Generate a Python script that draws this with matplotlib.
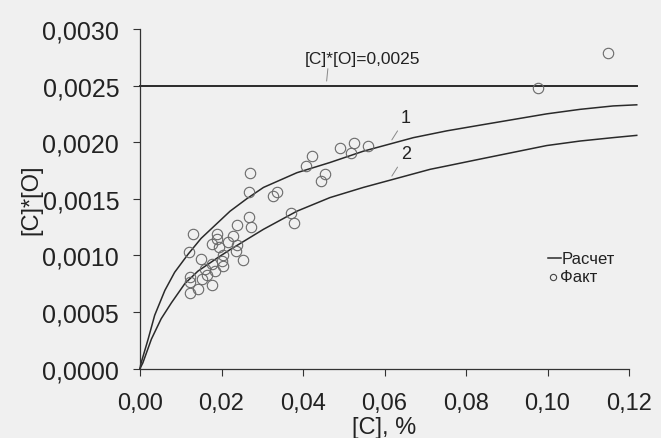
import matplotlib
matplotlib.use("Agg")
import matplotlib.pyplot as plt
from matplotlib.lines import Line2D
from matplotlib.ticker import FuncFormatter

plt.rcParams['font.family'] = ['Liberation Sans', 'DejaVu Sans']

# curve 1 (calculated)
c1_x = [0.0, 0.0002, 0.0020, 0.0036, 0.0061, 0.0085, 0.0118, 0.0150, 0.0221, 0.0262, 0.0303, 0.0385,
        0.0466, 0.0548, 0.0630, 0.0671, 0.0753, 0.0834, 0.0916, 0.0998, 0.1080, 0.1161, 0.1219]
c1_y = [0.0, 0.00004, 0.00026, 0.00047, 0.00069, 0.00085, 0.00101, 0.00115, 0.00139, 0.00150, 0.00160, 0.00173,
        0.00182, 0.00192, 0.00200, 0.00204, 0.00210, 0.00215, 0.00220, 0.00225, 0.00229, 0.00232, 0.00233]

# curve 2 (calculated)
c2_x = [0.0, 0.0007, 0.0028, 0.0052, 0.0077, 0.0110, 0.0142, 0.0191, 0.0221, 0.0303, 0.0385,
        0.0466, 0.0548, 0.0630, 0.0712, 0.0753, 0.0834, 0.0916, 0.0998, 0.1080, 0.1161, 0.1219]
c2_y = [0.0, 0.00005, 0.00026, 0.00044, 0.00058, 0.00075, 0.00086, 0.00098, 0.00105, 0.00123, 0.00139,
        0.00151, 0.00160, 0.00168, 0.00176, 0.00179, 0.00185, 0.00191, 0.00197, 0.00201, 0.00204, 0.00206]

# measured points
fact_x = [0.0130, 0.0121, 0.0270, 0.0268, 0.0327, 0.0336, 0.0407, 0.0422, 0.0443, 0.0455,
          0.0492, 0.0518, 0.0525, 0.0560, 0.0370, 0.0378, 0.0267, 0.0272, 0.0239, 0.0227,
          0.0217, 0.0239, 0.0236, 0.0188, 0.0190, 0.0176, 0.0195, 0.0203, 0.0200, 0.0204,
          0.0252, 0.0149, 0.0176, 0.0160, 0.0184, 0.0123, 0.0123, 0.0151, 0.0177, 0.0143,
          0.0123, 0.0976, 0.1149, 0.0165]
fact_y = [0.00119, 0.00103, 0.00173, 0.00156, 0.00152, 0.00156, 0.00179, 0.00188, 0.00166, 0.00172,
          0.00195, 0.00190, 0.00199, 0.00197, 0.00137, 0.00129, 0.00134, 0.00125, 0.00127, 0.00117,
          0.00112, 0.00109, 0.00104, 0.00119, 0.00114, 0.00110, 0.00107, 0.00100, 0.00095, 0.00091,
          0.00096, 0.00097, 0.00092, 0.00088, 0.00086, 0.00081, 0.00076, 0.00079, 0.00074, 0.00070,
          0.00067, 0.00248, 0.00279, 0.00083]

limit_y = 0.0025
limit_x = [0.0, 0.1219]

bg = '#f0f0f0'
ink = '#222222'
fig = plt.figure(figsize=(6.61, 4.39), dpi=100, facecolor=bg)
ax = fig.add_axes([0.2118, 0.1583, 0.7398, 0.7734], facecolor=bg)

ax.plot(limit_x, [limit_y, limit_y], color='#2a2a2a', lw=1.4, clip_on=False)
ax.plot(c1_x, c1_y, color='#2a2a2a', lw=1.1, clip_on=False)
ax.plot(c2_x, c2_y, color='#2a2a2a', lw=1.1, clip_on=False)
ax.plot(fact_x, fact_y, 'o', ms=7.5, mfc='none', mec='#6a6a6a', mew=0.8, clip_on=False)

ax.set_xlim(0, 0.12)
ax.set_ylim(0, 0.003)
ax.set_xticks([0, 0.02, 0.04, 0.06, 0.08, 0.10, 0.12])
ax.set_yticks([0, 0.0005, 0.0010, 0.0015, 0.0020, 0.0025, 0.0030])
ax.xaxis.set_major_formatter(FuncFormatter(lambda v, p: f"{v:.2f}".replace('.', ',')))
ax.yaxis.set_major_formatter(FuncFormatter(lambda v, p: f"{v:.4f}".replace('.', ',')))
ax.tick_params(axis='both', direction='out', length=5, width=0.8, colors='#333333',
               labelcolor=ink)
ax.tick_params(axis='y', pad=10, labelsize=18)
ax.tick_params(axis='x', pad=12, labelsize=17)
for s in ['top', 'right']:
    ax.spines[s].set_visible(False)
for s in ['left', 'bottom']:
    ax.spines[s].set_color('#333333')
    ax.spines[s].set_linewidth(0.9)

ax.set_xlabel('[C], %', fontsize=17, color=ink, labelpad=1)
ax.set_ylabel('[C]*[O]', fontsize=17, color=ink, labelpad=0)

# annotations
ax.annotate('[C]*[O]=0,0025', xy=(0.0458, 0.00254), xytext=(0.0405, 0.00274),
            fontsize=12.5, color=ink, ha='left', va='center',
            arrowprops=dict(arrowstyle='-', color='#888888', lw=0.7, shrinkA=0, shrinkB=0,
                            relpos=(0.2, 0.0)))
ax.annotate('1', xy=(0.0618, 0.00202), xytext=(0.0640, 0.00222),
            fontsize=13, color=ink, ha='left', va='center',
            arrowprops=dict(arrowstyle='-', color='#888888', lw=0.7, shrinkA=2, shrinkB=0,
                            relpos=(0.0, 0.0)))
ax.annotate('2', xy=(0.0618, 0.00170), xytext=(0.0640, 0.00190),
            fontsize=13, color=ink, ha='left', va='center',
            arrowprops=dict(arrowstyle='-', color='#888888', lw=0.7, shrinkA=2, shrinkB=0,
                            relpos=(0.0, 0.0)))

# legend drawn by hand to match the staggered layout
fig.add_artist(Line2D([0.829, 0.8487], [0.410, 0.410], color='#2a2a2a', lw=1.1,
                      transform=fig.transFigure))
fig.text(0.850, 0.410, 'Расчет', fontsize=12, color=ink, va='center', ha='left')
fig.add_artist(Line2D([0.8366], [0.367], ls='none', marker='o', ms=4.5, mfc='none',
                      mec='#444444', mew=0.8, transform=fig.transFigure))
fig.text(0.8472, 0.367, 'Факт', fontsize=12, color=ink, va='center', ha='left')

fig.savefig('out.png', dpi=100, facecolor=bg)
